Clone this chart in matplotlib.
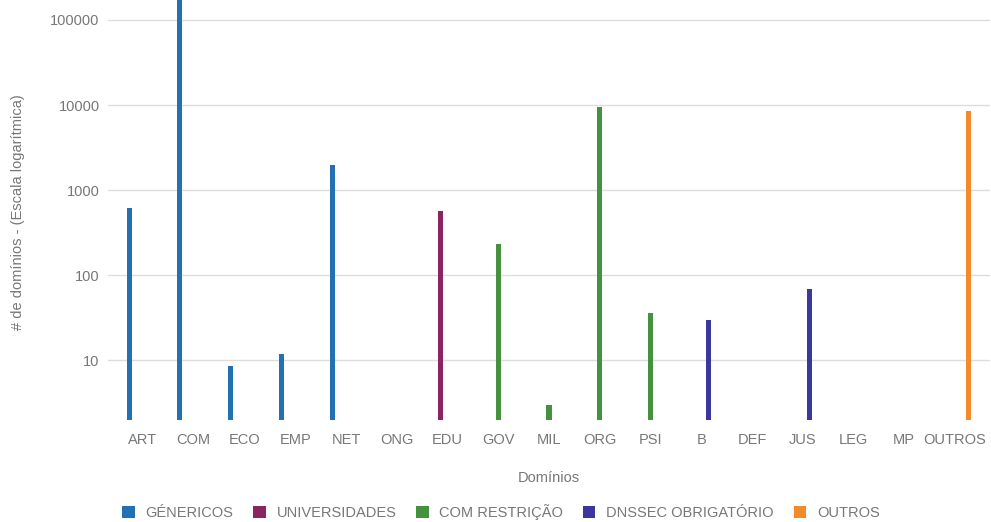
import matplotlib
matplotlib.use("Agg")
import matplotlib.pyplot as plt
import numpy as np

plt.rcParams["font.family"] = ["Liberation Sans", "DejaVu Sans"]

categories = ["ART", "COM", "ECO", "EMP", "NET", "ONG", "EDU", "GOV", "MIL",
              "ORG", "PSI", "B", "DEF", "JUS", "LEG", "MP", "OUTROS"]

# one value per category for each series (nan = no bar)
nan = np.nan
genericos = [610, 400000, 8.7, 11.8, 2000, nan, nan, nan, nan,
             nan, nan, nan, nan, nan, nan, nan, nan]
universidades = [nan, nan, nan, nan, nan, nan, 570, nan, nan,
                 nan, nan, nan, nan, nan, nan, nan, nan]
com_restricao = [nan, nan, nan, nan, nan, nan, nan, 235, 3,
                 9500, 36.5, nan, nan, nan, nan, nan, nan]
dnssec = [nan, nan, nan, nan, nan, nan, nan, nan, nan,
          nan, nan, 29.5, nan, 70, nan, nan, nan]
outros = [nan, nan, nan, nan, nan, nan, nan, nan, nan,
          nan, nan, nan, nan, nan, nan, nan, 8500]

series = [
    ("GÉNERICOS", genericos, "#2271b3"),
    ("UNIVERSIDADES", universidades, "#8c2462"),
    ("COM RESTRIÇÃO", com_restricao, "#449140"),
    ("DNSSEC OBRIGATÓRIO", dnssec, "#3d369e"),
    ("OUTROS", outros, "#f58a2c"),
]

text_color = "#777777"
fs = 10.5

fig = plt.figure(figsize=(9.91, 5.22), dpi=100)
ax = fig.add_axes([108 / 991, 102 / 522, 882 / 991, 420 / 522])

x = np.arange(len(categories))
step = 0.137
width = 0.1
for i, (name, vals, color) in enumerate(series):
    ax.bar(x + (i - 2) * step, vals, width, bottom=0, color=color, label=name)

ax.set_yscale("log")
ax.set_ylim(2, 171000)
ax.set_xlim(-0.69, len(categories) - 1 + 0.69)
ax.set_yticks([10, 100, 1000, 10000, 100000])
ax.set_yticklabels(["10", "100", "1000", "10000", "100000"])
ax.yaxis.set_minor_locator(matplotlib.ticker.NullLocator())
ax.set_xticks(x)
ax.set_xticklabels(categories)
ax.tick_params(axis="both", length=0, colors=text_color, labelsize=fs)
ax.tick_params(axis="y", pad=6)
ax.tick_params(axis="x", pad=9)
ax.grid(axis="y", color="#dddddd", linewidth=1)
ax.set_axisbelow(True)
for s in ax.spines.values():
    s.set_visible(False)

ax.set_xlabel("Domínios", color=text_color, fontsize=fs, labelpad=18)
fig.text(18 / 991, 1 - 212 / 522, "# de domínios - (Escala logarítmica)",
         rotation=90, ha="center", va="center", color=text_color, fontsize=fs)

fig.legend(loc="center", bbox_to_anchor=(501 / 991, 1 - 512 / 522), ncol=5,
           frameon=False, fontsize=fs, labelcolor=text_color,
           handlelength=0.85, handleheight=0.85, handletextpad=0.75,
           columnspacing=1.35)

fig.savefig("out.png", dpi=100)
